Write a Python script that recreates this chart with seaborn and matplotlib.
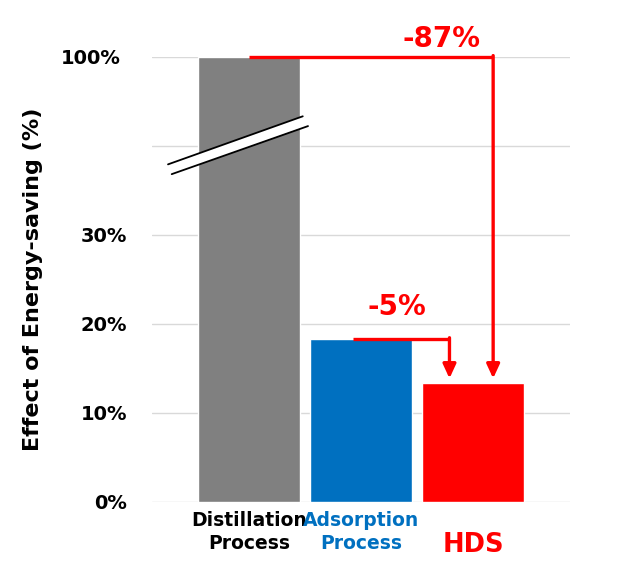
import numpy as np
import pandas as pd
import matplotlib
matplotlib.use("Agg")
import matplotlib.pyplot as plt
from matplotlib.transforms import blended_transform_factory, ScaledTranslation
import seaborn as sns

# ---- data ----
processes = ["Distillation\nProcess", "Adsorption\nProcess", "HDS"]
energy = [50.0, 18.3, 13.3]          # axis units, 50 is shown as 100% (broken axis)
bar_colors = ["#808080", "#0070C0", "#FF0000"]
label_colors = ["#000000", "#0070C0", "#FF0000"]
tick_vals = [0, 10, 20, 30, 40, 50]
tick_labels = ["0%", "10%", "20%", "30%", "", "100%"]
drops = ["-87%", "-5%"]

sns.set_theme(style="white")
plt.rcParams["font.family"] = ["DejaVu Sans"]
plt.rcParams["font.weight"] = "bold"
plt.rcParams["text.color"] = "black"
plt.rcParams["axes.labelcolor"] = "black"
plt.rcParams["ytick.color"] = "black"

df = pd.DataFrame({"process": processes, "energy": energy})

fig = plt.figure(figsize=(6.4, 5.69), dpi=100)
ax = fig.add_axes([0.2375, 0.1183, 0.6531, 0.7821])

sns.barplot(data=df, x="process", y="energy", hue="process", palette=bar_colors,
            width=0.91, saturation=1, legend=False, ax=ax, zorder=2)

ax.set_xlim(-0.866, 2.866)
ax.set_ylim(0, 50)
ax.set_yticks(tick_vals)
ax.set_yticklabels(tick_labels, fontsize=14, fontweight="bold", color="black")
ax.tick_params(axis="y", length=0, pad=18)
# the 100% label sits a little further left in the original
top_lbl = ax.get_yticklabels()[-1]
top_lbl.set_transform(top_lbl.get_transform() + ScaledTranslation(-6 / 100, 0, fig.dpi_scale_trans))
ax.set_xticks([])
ax.set_xlabel("")
ax.set_ylabel("Effect of Energy-saving (%)", fontsize=16, fontweight="bold",
              color="black", labelpad=13)
ax.yaxis.grid(True, color="#D9D9D9", lw=1)
ax.set_axisbelow(True)
for s in ax.spines.values():
    s.set_visible(False)

# category labels under bars
trans = blended_transform_factory(ax.transData, ax.transAxes)
for i, (name, col) in enumerate(zip(processes, label_colors)):
    if name == "HDS":
        ax.text(i, -0.097, name, transform=trans, ha="center", va="center",
                fontsize=18.5, fontweight="bold", color=col)
    else:
        ax.text(i, -0.022, name, transform=trans, ha="center", va="top",
                fontsize=13.5, fontweight="bold", color=col, linespacing=1.22)

# axis break mark across the distillation bar
bx = np.array([-0.723, 0.48])
by1 = np.array([37.9, 43.3])
by2 = np.array([36.8, 42.2])
ax.fill_between(bx, by2, by1, color="white", zorder=3)
ax.plot([-0.723, 0.48], by1, color="black", lw=1.3, zorder=4)
ax.plot([-0.69, 0.527], by2, color="black", lw=1.3, zorder=4)

# reduction arrows
red = "#FF0000"
gap = 0.55
arrows = [(0.0, 2.18, energy[0], energy[2] + gap),
          (0.93, 1.79, energy[1], energy[2] + gap)]
for x0, x1, y0, y1 in arrows:
    ax.plot([x0, x1], [y0, y0], color=red, lw=2.4, solid_capstyle="butt",
            clip_on=False, zorder=5)
    ax.annotate("", xy=(x1, y1), xytext=(x1, y0 + 0.12),
                arrowprops=dict(arrowstyle="-|>,head_length=0.65,head_width=0.3",
                                color=red, lw=2.4, mutation_scale=13,
                                shrinkA=0, shrinkB=0),
                annotation_clip=False, zorder=5)

ax.text(1.72, 52.0, drops[0], ha="center", va="center", fontsize=20,
        fontweight="bold", color=red, clip_on=False)
ax.text(1.32, 21.9, drops[1], ha="center", va="center", fontsize=20,
        fontweight="bold", color=red)

fig.savefig("out.png", dpi=100)
